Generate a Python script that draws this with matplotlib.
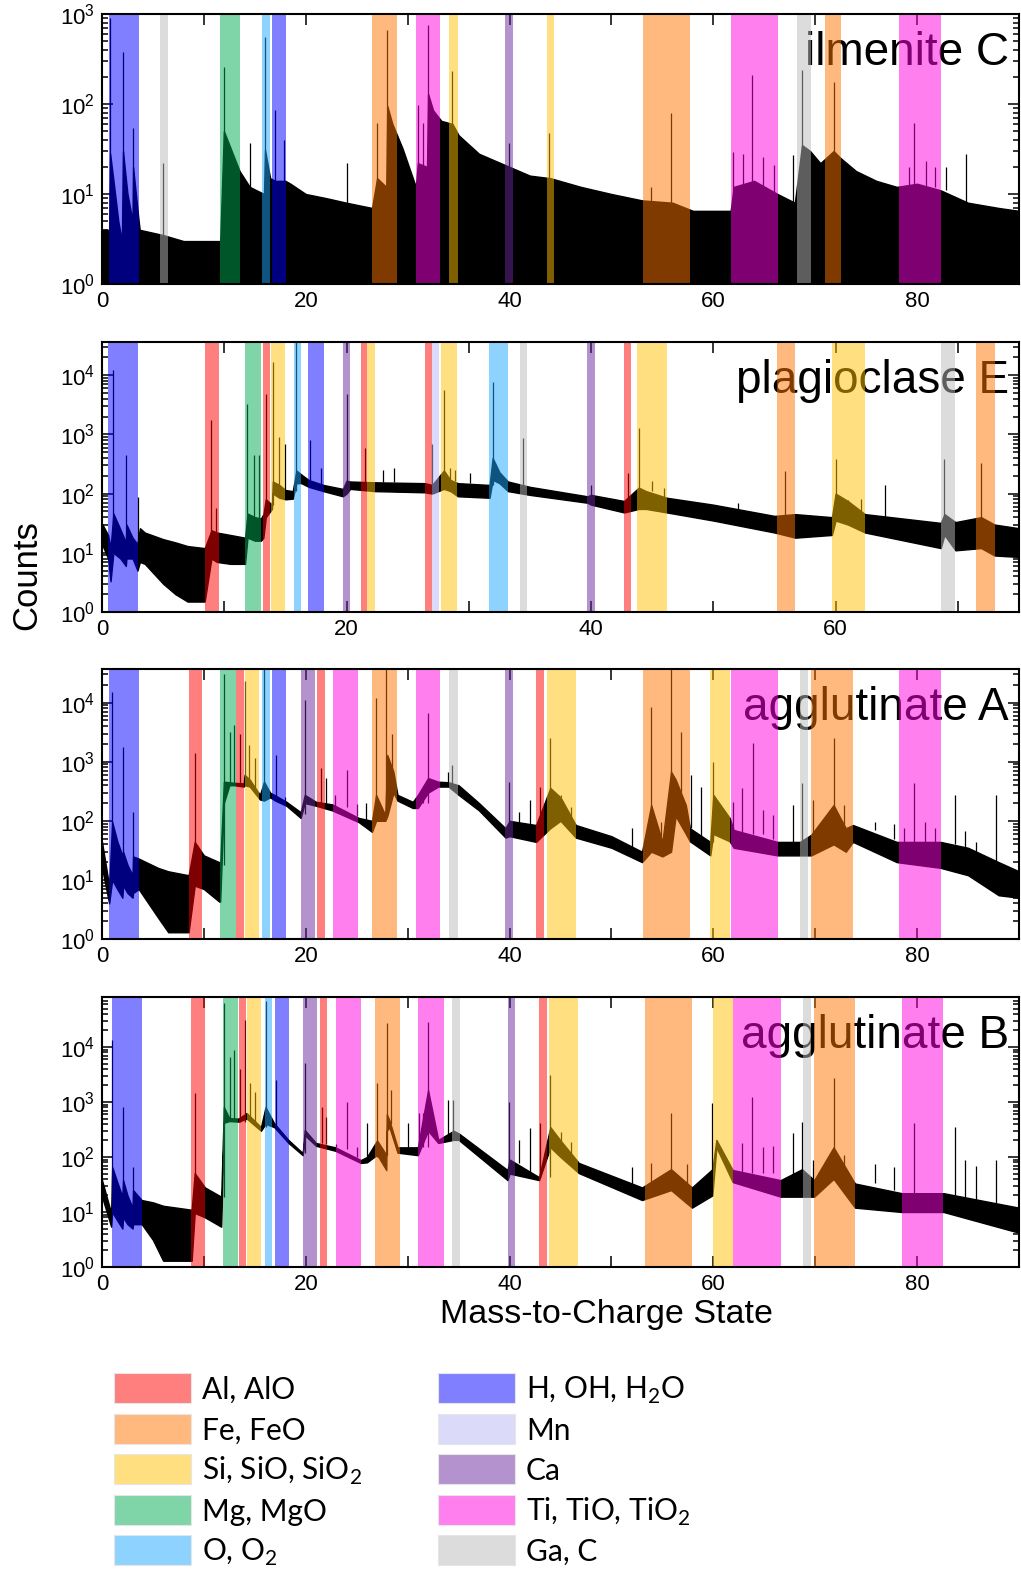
import matplotlib
matplotlib.use('Agg')
from matplotlib import pyplot as plt
from matplotlib.patches import Rectangle
from matplotlib.ticker import LogLocator, MultipleLocator, NullFormatter

plt.rcParams['font.family'] = ['Liberation Sans', 'DejaVu Sans']

# colours of the element groups (drawn at alpha 0.5)
colors = {
    'Al': '#ff0101', 'Fe': '#ff7501', 'Si': '#ffc101', 'Mg': '#01ad51',
    'O': '#1fa9ff', 'H': '#0101ff', 'Mn': '#b9b9f5', 'Ca': '#69279d',
    'Ti': '#ff01e1', 'Ga': '#bbbbbb',
}
legend_col1 = ['Al', 'Fe', 'Si', 'Mg', 'O']
legend_col2 = ['H', 'Mn', 'Ca', 'Ti', 'Ga']
legend_text = {
    'Al': 'Al, AlO', 'Fe': 'Fe, FeO', 'Si': r'Si, SiO, SiO$_\mathregular{2}$',
    'Mg': 'Mg, MgO', 'O': r'O, O$_\mathregular{2}$',
    'H': r'H, OH, H$_\mathregular{2}$O', 'Mn': 'Mn', 'Ca': 'Ca',
    'Ti': r'Ti, TiO, TiO$_\mathregular{2}$', 'Ga': 'Ga, C',
}

# ---------------- ilmenite C ----------------
c_band_lo = [0.7, 5.7, 11.6, 15.7, 16.7, 26.5, 30.8, 34.1, 39.6, 43.65, 53.1, 61.7, 68.2, 71.0, 78.2]
c_band_hi = [3.6, 6.5, 13.5, 16.5, 18.1, 29.0, 33.2, 34.9, 40.3, 44.4, 57.7, 66.3, 69.6, 72.5, 82.3]
c_band_el = ['H', 'Ga', 'Mg', 'O', 'H', 'Fe', 'Ti', 'Si', 'Ca', 'Si', 'Fe', 'Ti', 'Ga', 'Fe', 'Ti']
c_x = [0.0, 0.7, 0.8, 1.2, 1.6, 1.95, 2.06, 2.5, 3.0, 3.05, 3.6, 3.7, 6.0, 8.0, 11.0, 11.6, 11.96,
       12.5, 13.5, 14.5, 15.9, 16.0, 16.5, 17.0, 18.0, 18.5, 20.0, 22.0, 24.0, 26.5, 27.0, 27.9,
       28.0, 28.5, 29.5, 30.8, 31.0, 31.9, 32.0, 32.5, 33.3, 34.4, 35.0, 37.0, 40.0, 42.0, 44.0,
       47.0, 50.0, 53.0, 56.0, 58.0, 61.7, 62.0, 64.0, 66.3, 68.0, 68.7, 69.5, 70.5, 71.8, 72.5,
       74.0, 76.0, 78.0, 80.0, 82.3, 85.0, 88.0, 90.0]
c_hi = [4, 4, 28, 12, 5, 3, 30, 10, 5, 20, 5, 4, 3.5, 3, 3, 3, 50,
        35, 18, 12, 10, 31, 15, 14, 14, 13, 10, 9, 8, 7, 15, 12,
        95, 60, 32, 12, 22, 20, 130, 85, 65, 60, 45, 28, 20, 16, 15,
        12, 10, 8.5, 8, 6.5, 6.5, 12, 14, 10, 8, 35, 30, 22, 30, 25,
        18, 14, 12, 13, 11, 8, 7, 6.5]
c_lo = [1.0] * len(c_x)
c_pk_x = [0.8, 2.06, 3.05, 6.0, 11.96, 14.5, 15.98, 16.96, 17.9, 24.0, 27.0, 28.0, 31.0, 31.5, 32.0,
          34.4, 39.9, 43.9, 53.9, 55.85, 61.9, 62.9, 63.8, 64.9, 66.0, 67.8, 68.7, 71.8, 79.2, 79.7,
          80.9, 81.8, 82.8, 84.8]
c_pk_top = [900, 380, 54, 22, 260, 37, 550, 86, 40, 22, 62, 660, 97, 62, 750,
            230, 37, 48, 12, 79, 29, 28, 210, 26, 21, 27, 240, 177, 20, 62,
            23, 20, 20, 28]
c_pk_base = [4, 3, 4, 3, 4, 10, 10, 14, 13, 8, 8, 12, 12, 15, 20,
             55, 20, 15, 8, 8, 6.5, 12, 12, 12, 10, 8, 8, 22, 12, 12,
             12, 12, 11, 8]

# ---------------- plagioclase E ----------------
e_band_lo = [0.5, 8.42, 11.72, 13.17, 13.8, 15.68, 16.86, 19.7, 21.17, 21.7, 26.4, 27.0, 27.73,
             31.67, 34.2, 39.7, 42.7, 43.75, 55.2, 59.7, 68.6, 71.5]
e_band_hi = [2.95, 9.59, 13.03, 13.77, 14.94, 16.31, 18.14, 20.27, 21.7, 22.3, 27.0, 27.57, 29.07,
             33.22, 34.8, 40.3, 43.3, 46.2, 56.7, 62.4, 69.8, 73.0]
e_band_el = ['H', 'Al', 'Mg', 'Al', 'Si', 'O', 'H', 'Ca', 'Al', 'Si', 'Al', 'Mn', 'Si',
             'O', 'Ga', 'Ca', 'Al', 'Si', 'Fe', 'Si', 'Ga', 'Fe']
e_x = [0.0, 0.5, 0.7, 0.93, 1.5, 1.95, 2.0, 2.5, 2.9, 3.1, 3.5, 5.0, 6.0, 7.0, 8.4, 8.95, 9.4,
       10.5, 11.7, 11.9, 12.5, 13.0, 13.2, 13.4, 13.9, 13.97, 14.5, 15.0, 15.6, 15.9, 16.3, 16.9,
       18.1, 19.7, 20.0, 20.3, 22.3, 26.4, 27.0, 27.96, 28.5, 29.1, 31.7, 31.95, 32.5, 33.2, 35.0,
       39.7, 40.0, 42.7, 43.9, 44.5, 46.2, 50.0, 55.0, 56.7, 59.7, 60.0, 61.0, 62.4, 68.6, 68.9,
       69.8, 71.9, 73.0, 75.0]
e_lo = [14, 8, 3.3, 10, 8, 6, 8, 8, 5, 7, 6.5, 3, 2, 1.5, 1.5, 8, 7,
        6.5, 6.5, 18, 16, 16, 18, 40, 55, 100, 85, 80, 82, 150, 150, 130,
        110, 90, 100, 120, 110, 105, 100, 120, 110, 90, 85, 170, 150, 110, 95,
        70, 65, 48, 55, 55, 48, 35, 22, 18, 20, 35, 30, 22, 12, 20,
        11, 12, 9, 8.5]
e_hi = [31, 20, 12, 46, 25, 15, 30, 18, 14, 26, 22, 17, 15, 13, 12, 24, 22,
        20, 18, 46, 40, 38, 45, 80, 65, 160, 140, 115, 110, 245, 210, 170,
        140, 120, 165, 160, 155, 150, 140, 245, 170, 150, 140, 400, 230, 160, 130,
        90, 95, 75, 126, 110, 85, 65, 42, 45, 40, 100, 75, 45, 32, 45,
        33, 40, 30, 26]
e_pk_x = [0.93, 1.97, 2.95, 8.95, 9.3, 11.9, 12.4, 12.87, 13.4, 13.97, 14.45, 15.0, 15.9, 17.0,
          17.95, 20.0, 21.5, 23.0, 23.9, 26.95, 27.96, 28.45, 28.9, 30.1, 31.95, 34.4, 40.0, 43.0,
          43.9, 45.0, 46.0, 52.05, 55.9, 60.0, 61.0, 62.05, 64.0, 68.9, 71.9]
e_pk_top = [12000, 440, 86, 1740, 56, 3300, 440, 440, 4900, 16600, 900, 700, 40000, 800,
            275, 4900, 600, 250, 275, 700, 5600, 275, 250, 220, 7600, 880, 137, 225,
            1260, 165, 126, 68, 245, 390, 77, 80, 140, 390, 330]
e_pk_base = [10, 8, 8, 12, 20, 18, 40, 38, 45, 65, 140, 115, 110, 170,
             140, 120, 155, 155, 155, 140, 140, 170, 160, 150, 140, 130, 90, 75,
             75, 110, 85, 50, 42, 40, 60, 45, 40, 32, 33]

# ---------------- agglutinate A ----------------
a_band_lo = [0.69, 8.53, 11.57, 13.14, 14.05, 15.69, 16.73, 19.5, 21.08, 22.65, 26.5, 30.8, 34.1,
             39.6, 42.6, 43.66, 53.1, 59.7, 61.7, 68.5, 69.6, 78.2]
a_band_hi = [3.63, 9.83, 13.14, 13.92, 15.39, 16.47, 18.1, 20.9, 21.86, 25.16, 29.0, 33.2, 34.9,
             40.3, 43.4, 46.5, 57.7, 61.6, 66.3, 69.3, 73.7, 82.3]
a_band_el = ['H', 'Al', 'Mg', 'Al', 'Si', 'O', 'H', 'Ca', 'Al', 'Ti', 'Fe', 'Ti', 'Ga',
             'Ca', 'Al', 'Si', 'Fe', 'Si', 'Ti', 'Ga', 'Fe', 'Ti']
a_x = [0.0, 0.7, 1.0, 1.5, 2.0, 2.07, 2.5, 3.0, 3.05, 3.6, 5.5, 6.5, 8.5, 9.1, 10.0, 11.5, 11.6,
       11.96, 12.5, 13.0, 13.9, 14.0, 14.5, 15.5, 15.9, 16.5, 17.0, 18.1, 19.5, 19.9, 21.0, 22.6,
       25.2, 26.5, 26.9, 27.8, 28.0, 28.6, 29.0, 30.5, 31.0, 32.0, 33.0, 34.0, 35.0, 37.0, 39.6,
       40.0, 42.6, 44.0, 45.0, 46.5, 50.0, 53.0, 53.9, 55.0, 55.85, 56.3, 57.3, 57.7, 59.7, 60.0,
       61.6, 62.0, 66.3, 68.5, 69.6, 71.8, 73.0, 73.7, 78.0, 82.3, 85.0, 88.0, 90.0]
a_lo = [16, 4, 10, 7, 5, 8, 6, 5, 6, 7, 2.3, 1.3, 1.3, 8, 7, 4.3, 4.3,
        200, 400, 400, 380, 400, 380, 230, 220, 250, 220, 180, 112, 200, 180, 150,
        95, 65, 100, 100, 120, 300, 220, 165, 165, 300, 380, 380, 275, 150, 52,
        55, 44, 75, 100, 52, 35, 20, 30, 25, 30, 120, 60, 45, 26, 60,
        45, 35, 26, 26, 26, 40, 30, 44, 20, 16, 12, 5.5, 5]
a_hi = [44, 8, 96, 45, 26, 30, 18, 12, 25, 23, 16, 14, 12, 44, 26, 20, 18,
        460, 450, 440, 430, 600, 500, 275, 460, 300, 270, 210, 140, 275, 210, 190,
        112, 100, 275, 125, 1300, 680, 275, 210, 275, 530, 460, 450, 400, 200, 75,
        100, 85, 360, 250, 85, 55, 30, 185, 44, 680, 500, 185, 75, 44, 275,
        112, 70, 44, 44, 58, 185, 75, 85, 44, 44, 35, 20, 14]
a_pk_x = [1.0, 2.07, 3.05, 9.1, 11.96, 12.55, 13.0, 13.5, 14.0, 14.45, 15.0, 15.9, 17.05, 18.0,
          19.9, 21.5, 22.0, 22.85, 24.0, 25.0, 25.95, 26.9, 27.9, 28.5, 31.0, 31.5, 32.0, 33.95,
          34.4, 39.9, 40.9, 42.0, 42.95, 44.0, 45.0, 46.0, 52.0, 53.9, 54.9, 55.85, 56.8, 57.85,
          58.8, 60.0, 61.9, 62.85, 63.9, 64.9, 65.9, 67.85, 68.7, 69.8, 71.8, 72.85, 75.9, 77.7,
          78.7, 79.7, 80.8, 81.8, 83.7, 84.7, 85.8, 87.7]
a_pk_top = [15000, 1800, 140, 1400, 30000, 3200, 4200, 2900, 23000, 1950, 1170, 50000, 1300, 250,
            11000, 790, 530, 275, 730, 190, 200, 12000, 60000, 3000, 275, 250, 6800, 680,
            890, 460, 140, 225, 375, 2500, 275, 170, 75, 8300, 96, 50000, 3200, 600,
            375, 1000, 210, 360, 2100, 150, 125, 185, 440, 225, 2500, 185, 96, 90,
            75, 440, 96, 75, 275, 66, 44, 275]
a_pk_base = [10, 8, 6, 8, 18, 400, 400, 400, 400, 400, 300, 250, 250, 200,
             130, 200, 200, 180, 170, 120, 100, 100, 120, 500, 200, 200, 200, 450,
             420, 75, 85, 85, 85, 85, 250, 100, 30, 30, 44, 44, 300, 75,
             44, 44, 70, 60, 60, 60, 50, 44, 44, 58, 58, 75, 70, 50,
             44, 44, 44, 44, 40, 35, 30, 20]

# ---------------- agglutinate B ----------------
b_band_lo = [0.95, 8.76, 11.83, 13.4, 14.28, 15.95, 17.0, 19.74, 21.37, 22.94, 26.83, 31.04, 34.35,
             39.84, 42.88, 43.89, 53.27, 59.93, 61.93, 68.8, 69.9, 78.56]
b_band_hi = [3.89, 10.1, 13.33, 14.1, 15.59, 16.73, 18.33, 21.08, 22.12, 25.39, 29.25, 33.53, 35.13,
             40.56, 43.66, 46.76, 57.94, 61.9, 66.6, 69.6, 73.9, 82.58]
b_band_el = ['H', 'Al', 'Mg', 'Al', 'Si', 'O', 'H', 'Ca', 'Al', 'Ti', 'Fe', 'Ti', 'Ga',
             'Ca', 'Al', 'Si', 'Fe', 'Si', 'Ti', 'Ga', 'Fe', 'Ti']
b_x = [0.0, 0.9, 1.0, 1.5, 2.0, 2.07, 2.5, 3.0, 3.05, 3.9, 5.0, 6.0, 8.8, 9.1, 10.1, 11.7, 11.96,
       12.5, 13.4, 14.2, 15.6, 16.05, 16.9, 18.3, 19.7, 19.9, 21.0, 22.9, 25.4, 26.0, 27.0, 27.9,
       27.95, 28.2, 29.0, 31.0, 32.0, 33.0, 34.5, 35.0, 39.8, 40.0, 42.9, 44.0, 45.0, 46.8, 53.0,
       55.85, 57.9, 59.9, 60.3, 61.9, 66.6, 68.7, 69.9, 71.8, 73.9, 78.5, 82.6, 90.0]
b_lo = [19, 5.4, 10, 7, 5, 8, 6, 5, 6, 6, 3.1, 1.3, 1.3, 9.6, 8, 5.4, 420,
        450, 440, 500, 300, 400, 350, 180, 108, 250, 160, 130, 78, 80, 110, 58,
        300, 350, 120, 108, 300, 180, 205, 205, 38, 50, 38, 150, 100, 51, 16.5,
        25, 12, 20, 150, 35, 19, 19, 19, 40, 12, 10, 10, 4.2]
b_hi = [38, 9.6, 66, 35, 19, 38, 20, 12, 25, 16.5, 15, 13, 11, 51, 28, 19, 810,
        510, 500, 630, 350, 810, 410, 204, 118, 310, 180, 150, 88, 100, 200, 110,
        600, 470, 150, 150, 1650, 205, 300, 270, 58, 90, 43, 350, 200, 78, 28,
        60, 28, 60, 205, 58, 38, 60, 38, 150, 33, 22, 22, 12]
b_pk_x = [1.0, 2.07, 3.0, 9.1, 11.96, 12.55, 13.0, 13.5, 14.0, 14.5, 15.0, 16.05, 17.05, 19.9,
          21.6, 22.0, 23.0, 24.0, 25.0, 26.0, 27.0, 27.95, 28.4, 30.0, 31.1, 31.5, 32.0, 34.0,
          34.45, 39.9, 40.9, 42.0, 42.95, 44.0, 45.0, 46.0, 52.0, 53.9, 55.85, 57.4, 59.9, 62.85,
          63.8, 64.9, 65.9, 67.85, 68.7, 69.8, 71.8, 72.85, 75.9, 77.7, 79.7, 83.7, 84.7, 85.8,
          87.7]
b_pk_top = [13500, 810, 66, 1450, 63000, 6600, 8900, 4000, 31000, 2200, 1500, 70000, 2500, 5100,
            810, 530, 175, 1000, 150, 410, 2200, 27000, 1650, 410, 630, 630, 28000, 1100,
            1100, 1000, 205, 340, 410, 3100, 285, 190, 66, 78, 630, 75, 950, 180,
            1250, 150, 160, 270, 430, 88, 2700, 107, 75, 66, 410, 350, 90, 70,
            90]
b_pk_base = [10, 8, 6, 9.6, 19, 450, 450, 440, 440, 500, 400, 350, 350, 120,
             180, 170, 150, 140, 100, 88, 100, 110, 400, 150, 150, 150, 150, 205,
             205, 58, 78, 43, 43, 43, 180, 100, 28, 28, 28, 28, 28, 51,
             51, 51, 51, 38, 38, 38, 38, 38, 33, 25, 22, 20, 18, 16,
             14]

panels = [
    ('ilmenite C', 90, 1e3, c_band_lo, c_band_hi, c_band_el, c_x, c_lo, c_hi, c_pk_x, c_pk_top, c_pk_base),
    ('plagioclase E', 75, 10 ** 4.56, e_band_lo, e_band_hi, e_band_el, e_x, e_lo, e_hi, e_pk_x, e_pk_top, e_pk_base),
    ('agglutinate A', 90, 10 ** 4.57, a_band_lo, a_band_hi, a_band_el, a_x, a_lo, a_hi, a_pk_x, a_pk_top, a_pk_base),
    ('agglutinate B', 90, 10 ** 4.91, b_band_lo, b_band_hi, b_band_el, b_x, b_lo, b_hi, b_pk_x, b_pk_top, b_pk_base),
]

W, H = 1021, 1579
fig = plt.figure(figsize=(W / 100, H / 100), dpi=100)

# axes boxes in pixels (top, bottom)
tops = [14, 342, 669, 997]
left, right = 102, 1019
for i, (name, xmax, ymax, blo, bhi, bel, sx, slo, shi, px, ptop, pbase) in enumerate(panels):
    top = tops[i]
    ax = fig.add_axes([left / W, 1 - (top + 270) / H, (right - left) / W, 270 / H])
    ax.set_yscale('log')
    ax.set_xlim(0, xmax)
    ax.set_ylim(1, ymax)

    # spectrum
    ax.fill_between(sx, slo, shi, color='k', lw=1.0, zorder=2)
    ax.vlines(px, pbase, ptop, color='k', lw=0.9, zorder=2)

    # label (under the bands, as in the original)
    ax.text(0.989, 1 - 51 / 270, name, transform=ax.transAxes, ha='right', va='baseline',
            fontsize=33, zorder=3)

    # element bands
    for lo, hi, el in zip(blo, bhi, bel):
        ax.axvspan(lo, hi, color=colors[el], alpha=0.5, lw=0, zorder=4)

    ax.xaxis.set_major_locator(MultipleLocator(20))
    ax.xaxis.set_minor_locator(MultipleLocator(10))
    ax.yaxis.set_major_locator(LogLocator(base=10, numticks=10))
    ax.yaxis.set_minor_locator(LogLocator(base=10, subs=range(2, 10), numticks=20))
    ax.yaxis.set_minor_formatter(NullFormatter())
    ax.tick_params(which='both', direction='in', top=True, right=True, labelsize=16, width=1.1)
    ax.tick_params(which='major', length=8, pad=5)
    ax.tick_params(axis='y', which='minor', length=4)
    ax.tick_params(axis='x', which='minor', length=8)
    for sp in ax.spines.values():
        sp.set_linewidth(1.5)
        sp.set_zorder(5)

fig.text(27 / W, 1 - 575 / H, 'Counts', rotation=90, ha='center', va='center', fontsize=25)
fig.text(606 / W, 1 - 1315 / H, 'Mass-to-Charge State', ha='center', va='center', fontsize=24.5)

# legend drawn in pixel coordinates
lax = fig.add_axes([0, 0, 1, 1])
lax.set_xlim(0, W)
lax.set_ylim(H, 0)
lax.axis('off')
for col, (px0, keys) in enumerate([(114, legend_col1), (438, legend_col2)]):
    for row, key in enumerate(keys):
        y0 = 1373 + row * 40.5
        lax.add_patch(Rectangle((px0, y0), 77, 30, facecolor=colors[key], alpha=0.5,
                                edgecolor='none'))
        lax.add_patch(Rectangle((px0, y0), 77, 30, facecolor='none', edgecolor='#e6e6e6', lw=0.8))
        lax.text(px0 + 88, y0 + 26, legend_text[key], ha='left', va='baseline',
                 fontsize=21.5, family=['Lato', 'DejaVu Sans'])

fig.savefig('out.png', dpi=100)
